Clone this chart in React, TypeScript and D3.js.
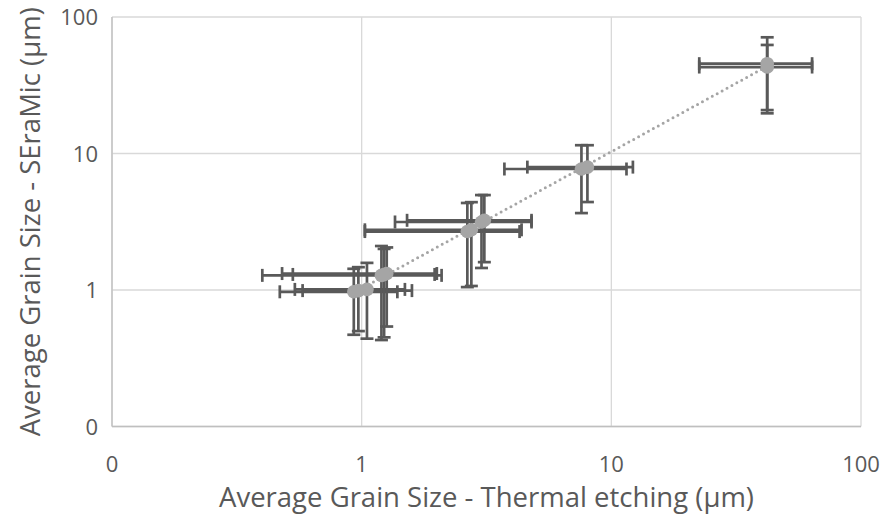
import React from 'react';
import * as d3 from 'd3';

// Thermal etching (x) and SEraMic (y) average grain sizes, µm, with error bar ends
const thermal = [0.93, 1.05, 0.97, 1.20, 1.26, 1.23, 2.65, 2.75, 3.02, 3.10, 7.59, 8.02, 42.1, 42.1];
const thermalLow = [0.47, 0.54, 0.58, 0.40, 0.48, 0.53, 1.03, 1.03, 1.36, 1.52, 3.73, 4.61, 22.5, 22.5];
const thermalHigh = [1.39, 1.49, 1.59, 2.09, 2.00, 1.96, 4.29, 4.37, 4.79, 4.79, 11.5, 12.2, 63.7, 63.7];
const seramic = [0.97, 1.01, 0.99, 1.28, 1.32, 1.30, 2.68, 2.76, 3.15, 3.24, 7.7, 7.95, 45.5, 43.0];
const seramicLow = [0.47, 0.44, 0.50, 0.43, 0.54, 0.45, 1.05, 1.07, 1.45, 1.60, 3.66, 4.41, 20.8, 19.7];
const seramicHigh = [1.43, 1.58, 1.47, 2.10, 2.05, 2.00, 4.34, 4.40, 4.96, 4.96, 11.5, 11.5, 71.0, 62.4];

const tickValues = [0.1, 1, 10, 100];
const tickLabels = ['0', '1', '10', '100'];

const xTitle = 'Average Grain Size - Thermal etching (µm)';
const yTitle = 'Average Grain Size - SEraMic (µm)';

const W = 885;
const H = 521;
const margin = { top: 17, right: 24, bottom: 94.5, left: 112 };
const FONT = '"Open Sans", Lato, sans-serif';
const TEXT = '#595959';
const BAR = '#595959';
const MARK = '#a5a5a5';
const CAP = 6.5;

const App: React.FC = () => {
  const x = d3.scaleLog().domain([0.1, 100]).range([margin.left, W - margin.right]);
  const y = d3.scaleLog().domain([0.1, 100]).range([H - margin.bottom, margin.top]);

  const pts = thermal.map((t, i) => ({
    x: t, xl: thermalLow[i], xh: thermalHigh[i],
    y: seramic[i], yl: seramicLow[i], yh: seramicHigh[i],
  }));

  // power trendline: least squares in log-log space
  const lx = pts.map(p => Math.log10(p.x));
  const ly = pts.map(p => Math.log10(p.y));
  const mx = d3.mean(lx)!;
  const my = d3.mean(ly)!;
  const b = d3.sum(lx.map((v, i) => (v - mx) * (ly[i] - my))) / d3.sum(lx.map(v => (v - mx) ** 2));
  const a = my - b * mx;
  const [x0, x1] = d3.extent(thermal) as [number, number];
  const trend = d3.range(0, 41).map(k => {
    const xv = Math.pow(10, Math.log10(x0) + (Math.log10(x1) - Math.log10(x0)) * k / 40);
    return [xv, Math.pow(10, a + b * Math.log10(xv))] as [number, number];
  });
  const line = d3.line<[number, number]>().x(d => x(d[0])).y(d => y(d[1]));

  const [yb, yt] = y.range();
  const [xa, xb] = x.range();

  return (
    <svg width={W} height={H} style={{ position: 'absolute', left: 0, top: 0, background: '#fff' }}>
      {/* gridlines */}
      <g stroke="#d9d9d9" strokeWidth={1.3}>
        {tickValues.map(v => (
          <line key={'gx' + v} x1={x(v)} x2={x(v)} y1={yt} y2={yb} />
        ))}
        {tickValues.map(v => (
          <line key={'gy' + v} x1={xa} x2={xb} y1={y(v)} y2={y(v)} />
        ))}
      </g>
      <g stroke="#bfbfbf" strokeWidth={1.3}>
        <line x1={xa} x2={xa} y1={yt} y2={yb} />
        <line x1={xa} x2={xb} y1={yb} y2={yb} />
      </g>

      {/* tick labels */}
      <g fontFamily={FONT} fontSize={22} fill={TEXT}>
        {tickValues.map((v, i) => (
          <text key={'tx' + v} x={x(v)} y={yb + 45} textAnchor="middle">{tickLabels[i]}</text>
        ))}
        {tickValues.map((v, i) => (
          <text key={'ty' + v} x={xa - 14} y={y(v) + 8} textAnchor="end">{tickLabels[i]}</text>
        ))}
      </g>

      {/* trendline */}
      <path d={line(trend)!} fill="none" stroke={MARK} strokeWidth={3}
        strokeDasharray="0 5.6" strokeLinecap="round" />

      {/* error bars */}
      <g stroke={BAR} strokeWidth={2.7} fill="none">
        {pts.map((p, i) => (
          <g key={'eb' + i}>
            <line x1={x(p.xl)} x2={x(p.xh)} y1={y(p.y)} y2={y(p.y)} />
            <line x1={x(p.xl)} x2={x(p.xl)} y1={y(p.y) - CAP} y2={y(p.y) + CAP} />
            <line x1={x(p.xh)} x2={x(p.xh)} y1={y(p.y) - CAP} y2={y(p.y) + CAP} />
            <line x1={x(p.x)} x2={x(p.x)} y1={y(p.yl)} y2={y(p.yh)} />
            <line x1={x(p.x) - CAP} x2={x(p.x) + CAP} y1={y(p.yl)} y2={y(p.yl)} />
            <line x1={x(p.x) - CAP} x2={x(p.x) + CAP} y1={y(p.yh)} y2={y(p.yh)} />
          </g>
        ))}
      </g>

      {/* markers */}
      <g fill={MARK}>
        {pts.map((p, i) => (
          <circle key={'m' + i} cx={x(p.x)} cy={y(p.y)} r={6.8} />
        ))}
      </g>

      {/* axis titles */}
      <text x={(xa + xb) / 2} y={507} textAnchor="middle" fontFamily={FONT} fontSize={27.5} fill={TEXT}>
        {xTitle}
      </text>
      <text transform={`translate(40, ${(yt + yb) / 2}) rotate(-90)`} textAnchor="middle"
        fontFamily={FONT} fontSize={27.5} fill={TEXT}>
        {yTitle}
      </text>
    </svg>
  );
};

export default App;
